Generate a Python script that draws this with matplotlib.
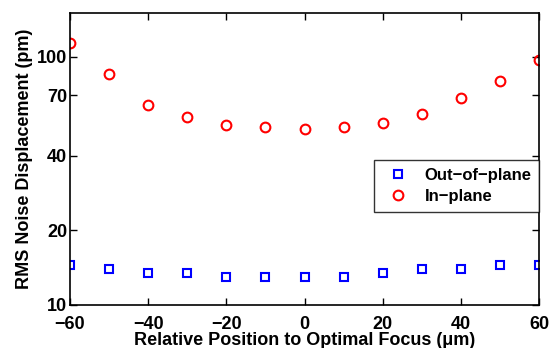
import numpy as np
import matplotlib
matplotlib.use("Agg")
import matplotlib.pyplot as plt
from matplotlib.ticker import FixedLocator, NullLocator

plt.rcParams["font.family"] = ["Liberation Sans", "DejaVu Sans"]
plt.rcParams["font.weight"] = "bold"

# data
position = [-60, -50, -40, -30, -20, -10, 0, 10, 20, 30, 40, 50, 60]
out_of_plane = [14.5, 14.0, 13.5, 13.5, 13.0, 13.0, 13.0, 13.0, 13.5, 14.0, 14.0, 14.5, 14.5]
in_plane = [114, 85, 64, 57, 53, 52, 51, 52, 54, 59, 68, 80, 97]
yticks = [10, 20, 40, 70, 100]
xticks = [-60, -40, -20, 0, 20, 40, 60]

fig = plt.figure(figsize=(5.49, 3.48), dpi=100)
ax = fig.add_axes([0.1275, 0.1236, 0.8543, 0.839])

ax.plot(position, out_of_plane, linestyle='none', marker='s', markersize=5.5,
        markerfacecolor='none', markeredgecolor='blue', markeredgewidth=1.5,
        label='Out\u2212of\u2212plane')
ax.plot(position, in_plane, linestyle='none', marker='o', markersize=7,
        markerfacecolor='none', markeredgecolor='red', markeredgewidth=1.5,
        label='In\u2212plane')

ax.set_yscale('log')
ax.set_ylim(10, 150)
ax.set_xlim(-60, 60)
ax.yaxis.set_major_locator(FixedLocator(yticks))
ax.yaxis.set_minor_locator(NullLocator())
ax.set_yticklabels([str(t) for t in yticks])
ax.set_xticks(xticks)
ax.set_xticklabels([str(t).replace('-', '\u2212') for t in xticks])

ax.tick_params(direction='in', top=True, right=True, length=5, width=1,
               labelsize=13)
ax.tick_params(axis='x', pad=8)
ax.tick_params(axis='y', pad=2)
for s in ax.spines.values():
    s.set_linewidth(1.2)

ax.set_xlabel('Relative Position to Optimal Focus (\u03bcm)', fontsize=13,
              fontweight='bold', labelpad=-1)
ax.set_ylabel('RMS Noise Displacement (pm)', fontsize=13, fontweight='bold',
              labelpad=3)

leg = ax.legend(loc='center right', bbox_to_anchor=(1.0, 0.408), fontsize=12,
                frameon=True, fancybox=False, edgecolor='black',
                borderpad=0.45, handletextpad=0.6, borderaxespad=0,
                labelspacing=0.4)
leg.get_frame().set_linewidth(1.0)
for t in leg.get_texts():
    t.set_fontweight('bold')

plt.savefig("out.png", dpi=100)
